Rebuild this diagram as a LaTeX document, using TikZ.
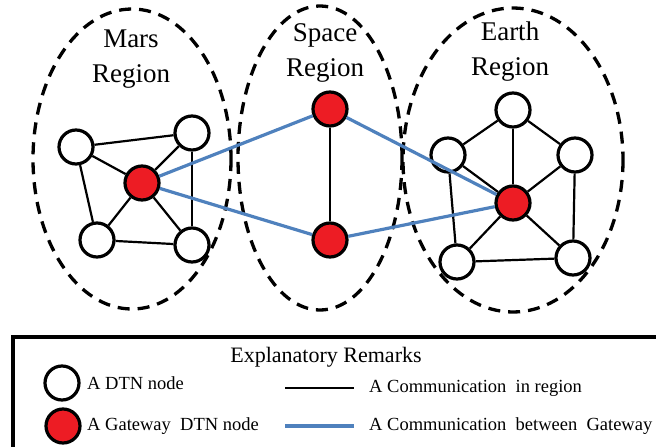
\documentclass[tikz,border=0pt]{standalone}
\usepackage{fontspec}
\setmainfont{Liberation Serif}
\definecolor{gwred}{HTML}{ED1C24}
\definecolor{linkblue}{HTML}{4F81BD}
\begin{document}
\begin{tikzpicture}[x=1pt,y=-1pt,
  region/.style={draw, line width=3.3pt, dash pattern=on 12pt off 8pt},
  dtn/.style={circle, draw, line width=3.2pt, fill=white, minimum size=34pt, inner sep=0pt},
  gw/.style={dtn, fill=gwred},
  inreg/.style={line width=2.2pt},
  between/.style={line width=3.2pt, linkblue},
  title/.style={font=\fontsize{27}{35}\selectfont, align=center},
  legtext/.style={font=\fontsize{18.5}{21}\selectfont, anchor=west, inner sep=0pt}
]
\useasboundingbox (0,0) rectangle (656,447);
% regions
\draw[region] (132,159) ellipse [x radius=99, y radius=150];
\draw[region] (320,158) ellipse [x radius=82, y radius=152];
\draw[region] (513,160) ellipse [x radius=110, y radius=152];
% titles
\node[title] (tmars) at (131,59) {Mars\\Region};
\node[title] (tspace) at (325,53) {Space\\Region};
\node[title] (tearth) at (510,52) {Earth\\Region};
% Mars nodes
\node[dtn] (m1) at (76,147) {};
\node[dtn] (m2) at (192,133) {};
\node[gw]  (mg) at (142,183) {};
\node[dtn] (m3) at (97,240) {};
\node[dtn] (m4) at (192,245) {};
% Space nodes
\node[gw] (s1) at (330,109) {};
\node[gw] (s2) at (330,240) {};
% Earth nodes
\node[dtn] (e1) at (513,110) {};
\node[dtn] (e2) at (448,155) {};
\node[dtn] (e3) at (575,155) {};
\node[gw]  (eg) at (513,203) {};
\node[dtn] (e4) at (457,262) {};
\node[dtn] (e5) at (573,258) {};
% in-region links
\draw[inreg] (m1) -- (m2);
\draw[inreg] (m1) -- (mg);
\draw[inreg] (m1) -- (m3);
\draw[inreg] (m2) -- (mg);
\draw[inreg] (m2) -- (m4);
\draw[inreg] (mg) -- (m3);
\draw[inreg] (mg) -- (m4);
\draw[inreg] (m3) -- (m4);
\draw[inreg] (s1) -- (s2);
\draw[inreg] (e1) -- (e2);
\draw[inreg] (e1) -- (e3);
\draw[inreg] (e1) -- (eg);
\draw[inreg] (e2) -- (eg);
\draw[inreg] (e3) -- (eg);
\draw[inreg] (e2) -- (e4);
\draw[inreg] (e3) -- (e5);
\draw[inreg] (eg) -- (e4);
\draw[inreg] (eg) -- (e5);
\draw[inreg] (e4) -- (e5);
% gateway links
\draw[between] (mg) -- (s1);
\draw[between] (mg) -- (s2);
\draw[between] (s1) -- (eg);
\draw[between] (s2) -- (eg);
% legend
\draw[line width=3.5pt] (13,470) -- (13,337) -- (680,337);
\node[font=\fontsize{22}{24}\selectfont] (lt) at (326,357) {Explanatory Remarks};
\node[dtn] (l1) at (62,383) {};
\node[gw]  (l2) at (63,426) {};
\node[legtext] (t1) at (87,383) {A DTN node};
\node[legtext] (t2) at (87,426) {A Gateway\ \ DTN node};
\coordinate (a1) at (285,388);
\coordinate (b1) at (354,388);
\coordinate (a2) at (285,426);
\coordinate (b2) at (354,426);
\draw[inreg] (a1) -- (b1);
\draw[between] (a2) -- (b2);
\node[legtext] (t3) at (369,388) {A Communication\ \ in region};
\node[legtext] (t4) at (369,426) {A Communication\ \ between\ \ Gateway};
\end{tikzpicture}
\end{document}
